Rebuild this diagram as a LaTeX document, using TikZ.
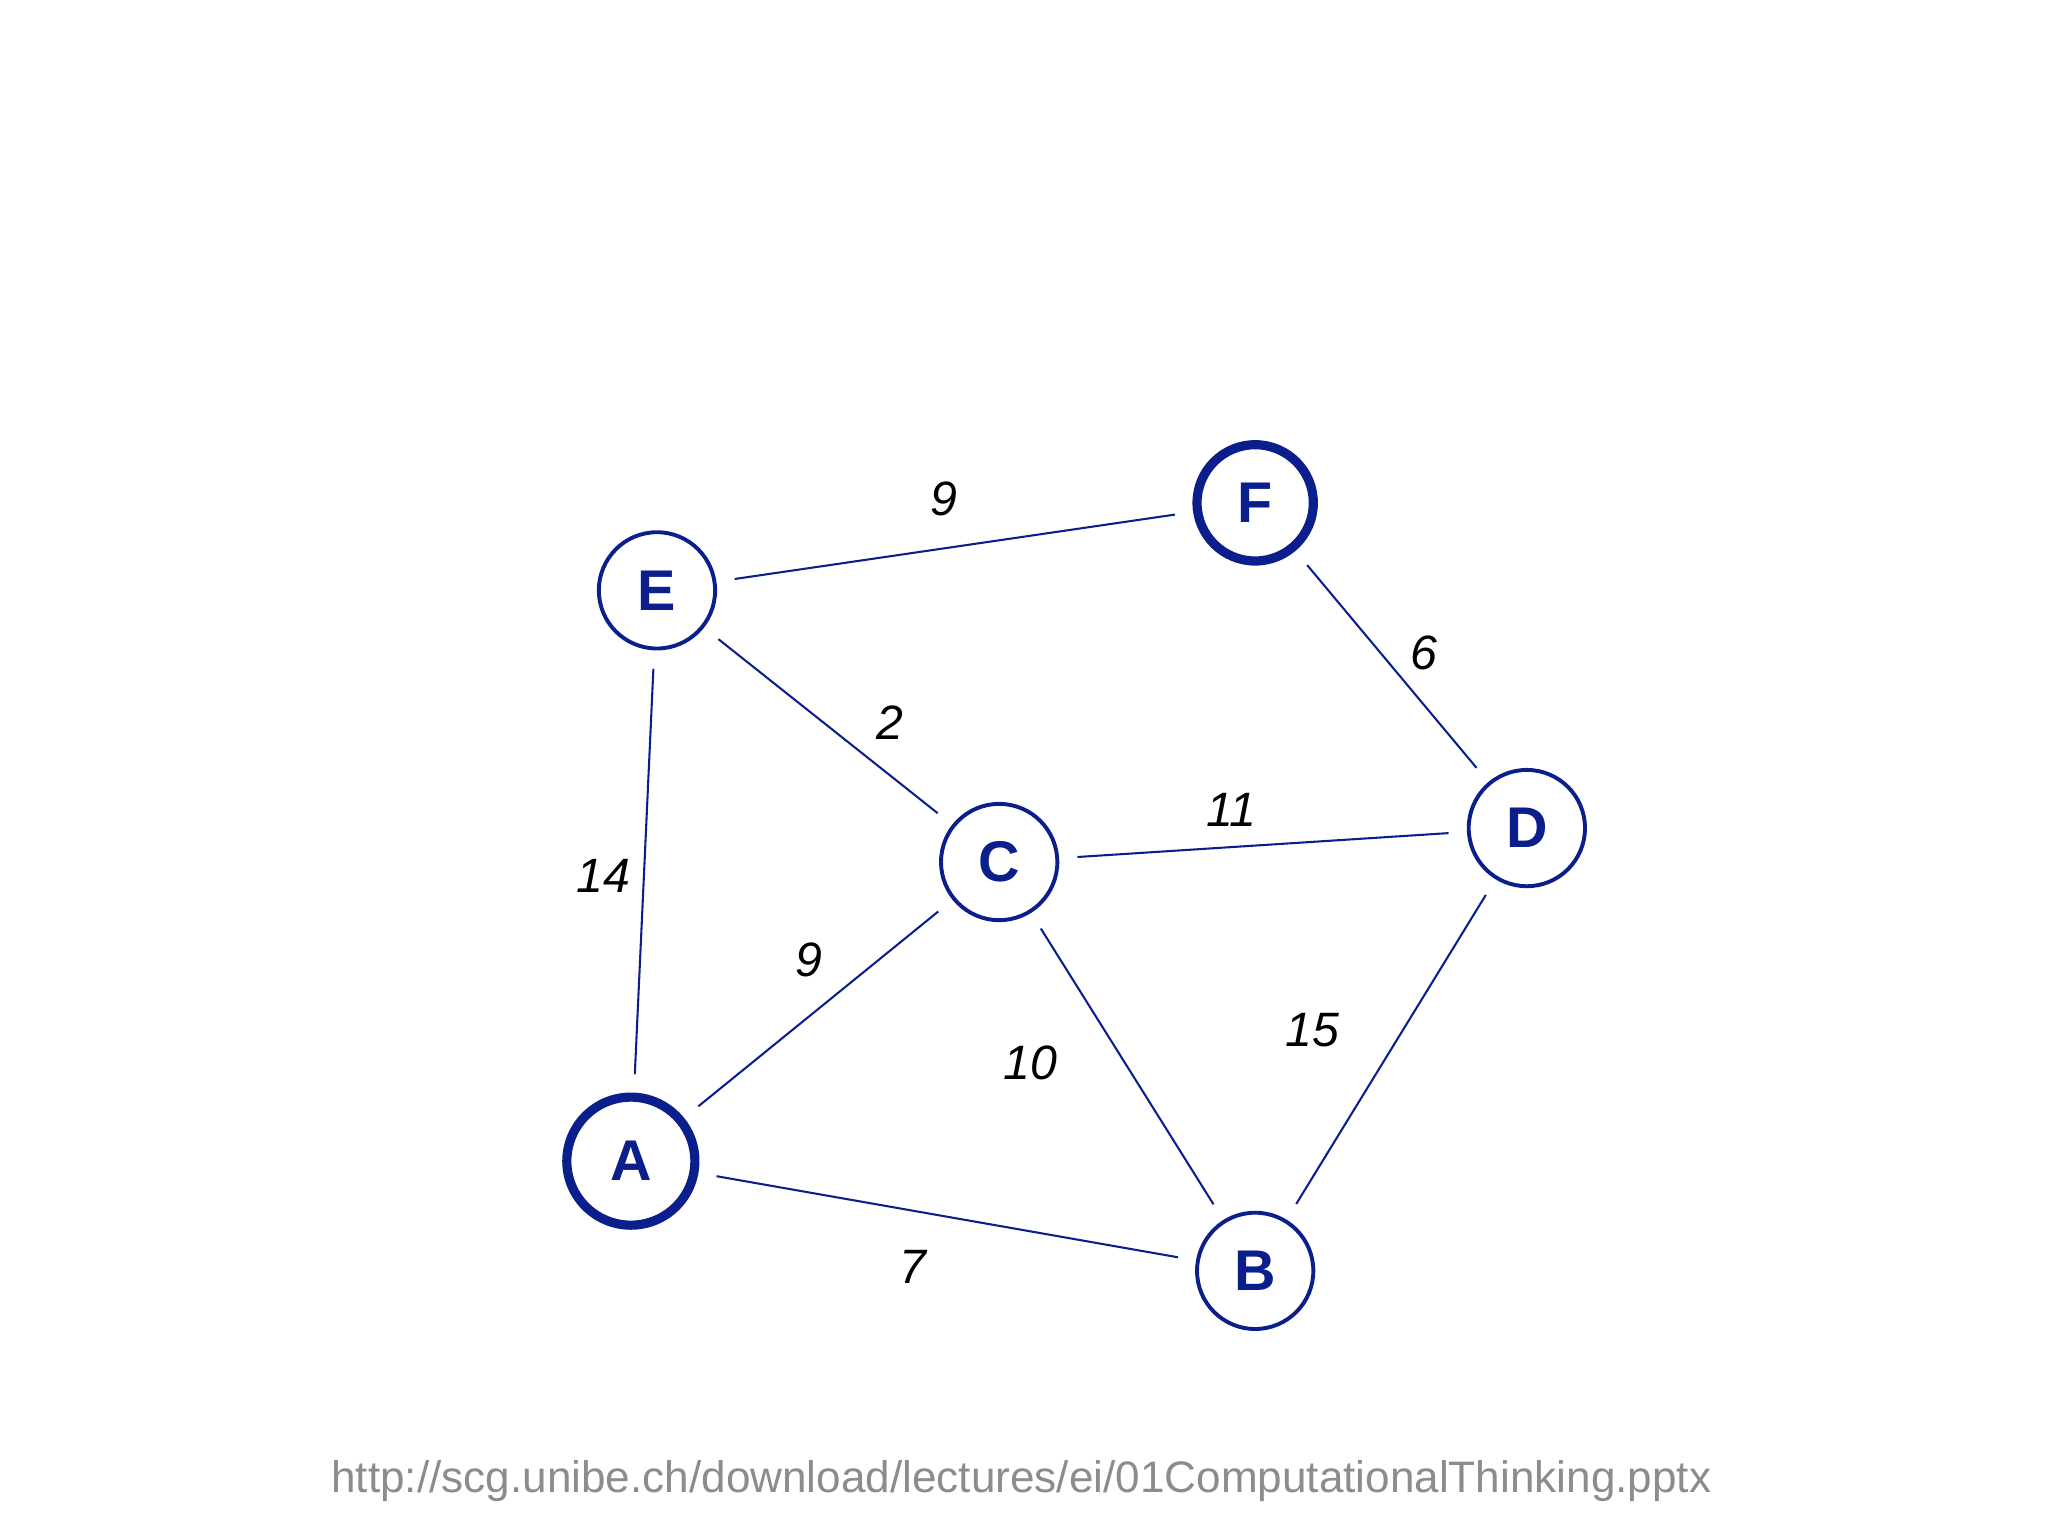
\documentclass[tikz,border=0pt]{standalone}
\usepackage{fontspec}
\setmainfont{Liberation Sans}
\definecolor{nb}{HTML}{0A1E8C}
\begin{document}
\begin{tikzpicture}[x=0.01cm,y=-0.01cm,
  vert/.style={circle,draw=nb,line width=0.85pt,fill=white,minimum size=0.89cm,inner sep=0pt,font=\fontsize{12.5}{14}\selectfont\bfseries,text=nb},
  thickv/.style={vert,line width=2pt},
  edge/.style={draw=nb,line width=0.45pt,shorten <=4pt,shorten >=4pt},
  wt/.style={font=\fontsize{10.5}{12}\selectfont\itshape}]
\useasboundingbox (0,0) rectangle (1568,1176);
\node[vert] (E) at (503,452) {E};
\node[thickv] (F) at (961,385) {F};
\node[vert] (C) at (765,660) {C};
\node[vert] (D) at (1169,634) {D};
\node[thickv,minimum size=0.98cm] (A) at (483,889) {A};
\node[vert] (B) at (961,973) {B};
\draw[edge] (E) -- (F);
\draw[edge] (F) -- (D);
\draw[edge] (E) -- (C);
\draw[edge] (C) -- (D);
\draw[edge] (E) -- (A);
\draw[edge] (A) -- (C);
\draw[edge] (C) -- (B);
\draw[edge] (D) -- (B);
\draw[edge] (A) -- (B);
\node[wt] (w1) at (723,382) {9};
\node[wt] (w2) at (1090,500) {6};
\node[wt] (w3) at (681,553) {2};
\node[wt] (w4) at (943,620) {11};
\node[wt] (w5) at (462,671) {14};
\node[wt] (w6) at (619,735) {9};
\node[wt] (w7) at (789,814) {10};
\node[wt] (w8) at (1005,789) {15};
\node[wt] (w9) at (699,970) {7};
\node[text=black!45,font=\fontsize{9.6}{11}\selectfont] (url) at (782,1134) {http://scg.unibe.ch/download/lectures/ei/01ComputationalThinking.pptx};
\end{tikzpicture}
\end{document}
